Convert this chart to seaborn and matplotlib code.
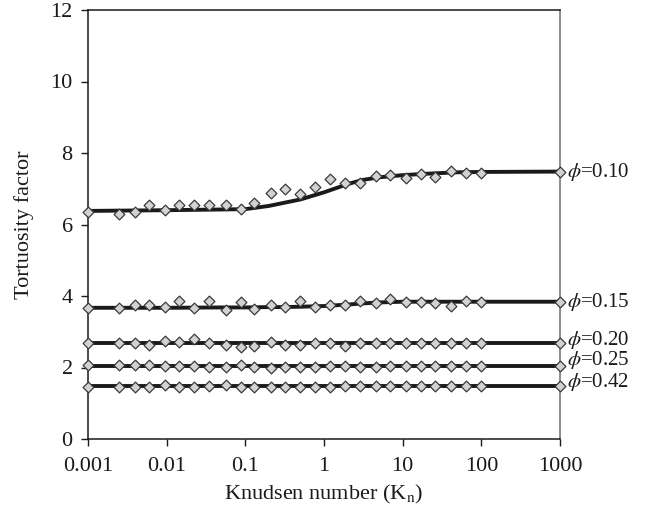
import numpy as np
import pandas as pd
import matplotlib
matplotlib.use("Agg")
import matplotlib.pyplot as plt
import seaborn as sns
from matplotlib.ticker import FixedLocator, FixedFormatter, NullLocator

# ---------------- data ----------------
knudsen = [0.001, 0.0025, 0.004, 0.006, 0.0095, 0.0145, 0.022, 0.035, 0.056,
           0.087, 0.13, 0.21, 0.32, 0.49, 0.77, 1.19, 1.85, 2.9, 4.6, 6.9,
           11, 16.9, 26, 41, 63, 100, 1000]

tort_010 = [6.36, 6.29, 6.34, 6.55, 6.41, 6.55, 6.55, 6.55, 6.55, 6.43, 6.61,
            6.87, 6.98, 6.84, 7.06, 7.26, 7.17, 7.17, 7.36, 7.38, 7.31, 7.40,
            7.33, 7.50, 7.45, 7.45, 7.48]
tort_015 = [3.67, 3.67, 3.75, 3.75, 3.70, 3.86, 3.67, 3.86, 3.61, 3.83, 3.64,
            3.74, 3.70, 3.86, 3.68, 3.74, 3.75, 3.87, 3.80, 3.91, 3.84, 3.84,
            3.80, 3.72, 3.87, 3.84, 3.84]
tort_020 = [2.68, 2.68, 2.68, 2.63, 2.75, 2.72, 2.79, 2.69, 2.63, 2.57, 2.60,
            2.72, 2.63, 2.63, 2.68, 2.68, 2.60, 2.68, 2.68, 2.68, 2.69, 2.69,
            2.69, 2.68, 2.69, 2.69, 2.68]
tort_025 = [2.07, 2.07, 2.07, 2.07, 2.04, 2.04, 2.04, 2.02, 2.02, 2.07, 2.02,
            1.98, 2.02, 2.02, 2.02, 2.04, 2.04, 2.02, 2.02, 2.04, 2.04, 2.04,
            2.04, 2.04, 2.04, 2.04, 2.04]
tort_042 = [1.46, 1.46, 1.46, 1.46, 1.51, 1.46, 1.46, 1.49, 1.51, 1.46, 1.46,
            1.46, 1.46, 1.46, 1.46, 1.46, 1.47, 1.47, 1.47, 1.47, 1.47, 1.47,
            1.47, 1.47, 1.47, 1.47, 1.47]

# fitted model curves
curve_x = [0.001, 0.01, 0.05, 0.1, 0.2, 0.3, 0.5, 1, 2, 3, 5, 10, 20, 50, 100, 1000]
fit_010 = [6.38, 6.40, 6.42, 6.43, 6.52, 6.60, 6.70, 6.90, 7.13, 7.24, 7.32,
           7.38, 7.42, 7.46, 7.47, 7.48]
fit_015 = [3.67, 3.67, 3.68, 3.68, 3.69, 3.69, 3.70, 3.72, 3.76, 3.79, 3.82,
           3.84, 3.84, 3.84, 3.84, 3.84]
fit_020 = [2.68] * 16
fit_025 = [2.05] * 16
fit_042 = [1.47] * 16

series_labels = [r"$\phi$=0.10", r"$\phi$=0.15", r"$\phi$=0.20",
                 r"$\phi$=0.25", r"$\phi$=0.42"]
x_ticks = [0.001, 0.01, 0.1, 1, 10, 100, 1000]
x_ticklabels = ["0.001", "0.01", "0.1", "1", "10", "100", "1000"]
y_ticks = [0, 2, 4, 6, 8, 10, 12]

points = [tort_010, tort_015, tort_020, tort_025, tort_042]
fits = [fit_010, fit_015, fit_020, fit_025, fit_042]
label_dy = [0, 0, 2.3, 4.1, 3.4]  # vertical nudges (points) for label text

# ---------------- style ----------------
sns.set_style("ticks")
plt.rcParams["font.family"] = ["Liberation Serif", "DejaVu Serif"]
plt.rcParams["mathtext.fontset"] = "stix"
FS = 16

fig = plt.figure(figsize=(6.5, 5.09), dpi=100)
ax = fig.add_axes([88 / 650, 1 - 439 / 509, (560 - 88) / 650, (439 - 10) / 509])

for ys, fy, lab, dy in zip(points, fits, series_labels, label_dy):
    sns.lineplot(x=curve_x, y=fy, color="#1a1a1a", linewidth=2.8,
                 estimator=None, sort=False, ax=ax, zorder=2)
    sns.scatterplot(x=knudsen, y=ys, marker="D", s=30, color="#d2d2d2",
                    edgecolor="#3a3a3a", linewidth=0.9, ax=ax, zorder=3)
    ax.annotate(lab, xy=(1000, fy[-1]), xytext=(5, dy),
                textcoords="offset points", ha="left", va="center",
                fontsize=15, color="#1a1a1a", annotation_clip=False)

for coll in ax.collections:
    coll.set_clip_on(False)

ax.set_xscale("log")
ax.set_xlim(0.001, 1000)
ax.set_ylim(0, 12)
ax.xaxis.set_major_locator(FixedLocator(x_ticks))
ax.xaxis.set_major_formatter(FixedFormatter(x_ticklabels))
ax.xaxis.set_minor_locator(NullLocator())
ax.set_yticks(y_ticks)
ax.set_yticklabels([str(v) for v in y_ticks])

ax.tick_params(axis="both", direction="out", length=5, width=1,
               labelsize=FS, color="#1a1a1a", labelcolor="#1a1a1a")
ax.tick_params(axis="y", pad=6)
ax.tick_params(axis="x", pad=8)

for side in ["left", "bottom", "top"]:
    ax.spines[side].set_color("#1a1a1a")
    ax.spines[side].set_linewidth(1.1)
ax.spines["right"].set_color("#6e6e6e")
ax.spines["right"].set_linewidth(1.1)

ax.set_xlabel(r"Knudsen number (K$_\mathrm{n}$)", fontsize=FS, color="#1a1a1a",
              labelpad=5)
ax.set_ylabel("Tortuosity factor", fontsize=FS, color="#1a1a1a", labelpad=12)

fig.savefig("out.png", dpi=100, facecolor="white")
